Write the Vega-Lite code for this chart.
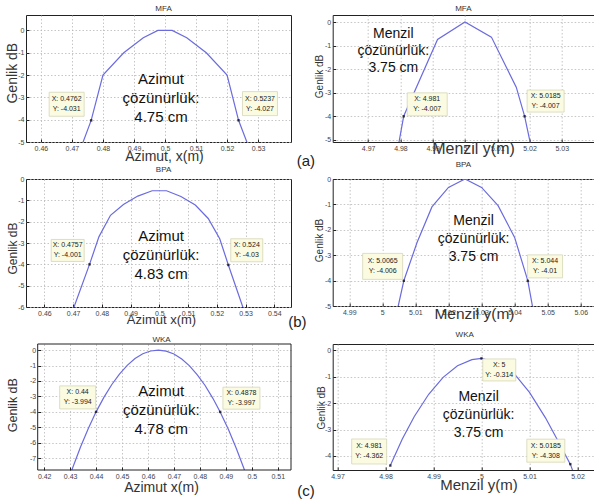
{
"$schema": "https://vega.github.io/schema/vega-lite/v6.json",
"padding": {"left": 5, "top": 4, "right": 0, "bottom": 0},
"background": "white",
"config": {
  "font": "Liberation Sans",
  "view": {"stroke": "#222", "strokeWidth": 1},
  "axis": {"grid": true, "gridColor": "#b8b8b8", "gridDash": [1.5, 2], "gridWidth": 0.8, "domain": false, "ticks": true, "tickSize": -3, "tickColor": "#222", "labelPadding": 5, "labelFontSize": 7, "labelColor": "#444", "labelFlush": false, "labelOverlap": false, "labelBound": false, "labelExpr": "'' + datum.value", "titleFontWeight": "normal", "titleColor": "#333", "titleBaseline": "middle"},
  "title": {"fontSize": 8, "fontWeight": "normal", "color": "#333"},
  "text": {"font": "Liberation Sans"}
},
"columns": 2, "bounds": "flush", "spacing": {"row": 37, "column": 41.7},
"concat": [
  {"width": 265, "height": 127, "title": {"text": "MFA", "offset": 2, "dx": 5},
   "layer": [
    {"data": {"values": [{"x":0.4728,"y":-5.3},{"x":0.4762,"y":-4.031},{"x":0.48,"y":-2.0},{"x":0.4867,"y":-1.0},{"x":0.493,"y":-0.33},{"x":0.4977,"y":0},{"x":0.5023,"y":0},{"x":0.507,"y":-0.33},{"x":0.5133,"y":-1.0},{"x":0.52,"y":-2.0},{"x":0.5237,"y":-4.027},{"x":0.5272,"y":-5.3}]},
     "mark": {"type": "line", "clip": true, "color": "#6b6bdf", "strokeWidth": 1.2},
     "encoding": {
       "x": {"field": "x", "type": "quantitative", "scale": {"domain": [0.4552, 0.5406], "nice": false, "zero": false},
             "axis": {"tickCount": 30, "labelOverlap": false, "values": [0.46,0.47,0.48,0.49,0.5,0.51,0.52,0.53], "title": "Azimut, x(m)", "titleFontSize": 14, "titleX": 138, "titleY": 14}},
       "y": {"field": "y", "type": "quantitative", "scale": {"domain": [-5, 0.69], "nice": false, "zero": false},
             "axis": {"tickCount": 30, "labelOverlap": false, "values": [-5,-4,-3,-2,-1,0], "title": "Genlik dB", "titleFontSize": 14, "titleX": -13.3, "titleY": 57.7}}}},
    {"data": {"values": [{"x":0.4762,"y":-4.031},{"x":0.5237,"y":-4.027}]},
     "mark": {"type": "square", "filled": true, "color": "#000", "size": 6},
     "encoding": {"x": {"field": "x", "type": "quantitative"}, "y": {"field": "y", "type": "quantitative"}}},
    {"data": {"values": [{}]}, "mark": {"type": "rect", "width": 35, "height": 24, "fill": "#fbfbe2", "stroke": "#d6d6b8", "strokeWidth": 0.8},
     "encoding": {"x": {"datum": 0.4683}, "y": {"datum": -3.31}}},
    {"data": {"values": [{}]}, "mark": {"type": "text", "text": ["X: 0.4762", "Y: -4.031"], "fontSize": 7, "lineHeight": 10, "dy": -5, "color": "#222"},
     "encoding": {"x": {"datum": 0.4683}, "y": {"datum": -3.31}}},
    {"data": {"values": [{}]}, "mark": {"type": "rect", "width": 35, "height": 24, "fill": "#fbfbe2", "stroke": "#d6d6b8", "strokeWidth": 0.8},
     "encoding": {"x": {"datum": 0.5306}, "y": {"datum": -3.28}}},
    {"data": {"values": [{}]}, "mark": {"type": "text", "text": ["X: 0.5237", "Y: -4.027"], "fontSize": 7, "lineHeight": 10, "dy": -5, "color": "#222"},
     "encoding": {"x": {"datum": 0.5306}, "y": {"datum": -3.28}}},
    {"data": {"values": [{}]}, "mark": {"type": "text", "text": ["Azimut", "çözünürlük:", "4.75 cm"], "fontSize": 15, "lineHeight": 19, "color": "#111"},
     "encoding": {"x": {"datum": 0.4987}, "y": {"datum": -2.18}}},
    {"data": {"values": [{}]}, "mark": {"type": "text", "text": "(a)", "fontSize": 15, "color": "#222"},
     "encoding": {"x": {"datum": 0.5454}, "y": {"datum": -5.85}}}
   ]},
  {"width": 261.3, "height": 127, "title": {"text": "MFA", "offset": 2},
   "layer": [
    {"data": {"values": [{"x":4.9793,"y":-5.3},{"x":4.981,"y":-4.007},{"x":4.9915,"y":-0.74},{"x":5.0,"y":0},{"x":5.0082,"y":-0.64},{"x":5.0159,"y":-2.77},{"x":5.0185,"y":-4.007},{"x":5.0205,"y":-5.3}]},
     "mark": {"type": "line", "clip": true, "color": "#6b6bdf", "strokeWidth": 1.2},
     "encoding": {
       "x": {"field": "x", "type": "quantitative", "scale": {"domain": [4.959, 5.04], "nice": false, "zero": false},
             "axis": {"tickCount": 30, "labelOverlap": false, "values": [4.97,4.98,4.99,5,5.01,5.02,5.03], "title": "Menzil y(m)", "titleFontSize": 16, "titleX": 140.3, "titleY": 6}},
       "y": {"field": "y", "type": "quantitative", "scale": {"domain": [-5.1, 0.3], "nice": false, "zero": false},
             "axis": {"tickCount": 30, "labelOverlap": false, "values": [-5,-4,-3,-2,-1,0], "title": "Genlik dB", "titleFontSize": 10, "titleX": -13.4, "titleY": 61}}}},
    {"data": {"values": [{"x":4.981,"y":-4.007},{"x":5.0185,"y":-4.007}]},
     "mark": {"type": "square", "filled": true, "color": "#000", "size": 6},
     "encoding": {"x": {"field": "x", "type": "quantitative"}, "y": {"field": "y", "type": "quantitative"}}},
    {"data": {"values": [{}]}, "mark": {"type": "rect", "width": 40, "height": 23, "fill": "#fbfbe2", "stroke": "#d6d6b8", "strokeWidth": 0.8},
     "encoding": {"x": {"datum": 4.9883}, "y": {"datum": -3.5}}},
    {"data": {"values": [{}]}, "mark": {"type": "text", "text": ["X: 4.981", "Y: -4.007"], "fontSize": 7, "lineHeight": 10, "dy": -5, "color": "#222"},
     "encoding": {"x": {"datum": 4.9883}, "y": {"datum": -3.5}}},
    {"data": {"values": [{}]}, "mark": {"type": "rect", "width": 37, "height": 22, "fill": "#fbfbe2", "stroke": "#d6d6b8", "strokeWidth": 0.8},
     "encoding": {"x": {"datum": 5.025}, "y": {"datum": -3.36}}},
    {"data": {"values": [{}]}, "mark": {"type": "text", "text": ["X: 5.0185", "Y: -4.007"], "fontSize": 7, "lineHeight": 10, "dy": -5, "color": "#222"},
     "encoding": {"x": {"datum": 5.025}, "y": {"datum": -3.36}}},
    {"data": {"values": [{}]}, "mark": {"type": "text", "text": ["Menzil", "çözünürlük:", "3.75 cm"], "fontSize": 14, "lineHeight": 17, "color": "#111"},
     "encoding": {"x": {"datum": 4.9778}, "y": {"datum": -0.52}}}
   ]},
  {"width": 265, "height": 128, "title": {"text": "BPA", "offset": 1, "dx": 5},
   "layer": [
    {"data": {"values": [{"x":0.4695,"y":-6.3},{"x":0.4757,"y":-4.001},{"x":0.479,"y":-2.7},{"x":0.483,"y":-1.7},{"x":0.4875,"y":-1.2},{"x":0.4925,"y":-0.8},{"x":0.4975,"y":-0.55},{"x":0.5025,"y":-0.55},{"x":0.5075,"y":-0.82},{"x":0.5125,"y":-1.22},{"x":0.517,"y":-1.85},{"x":0.521,"y":-2.8},{"x":0.524,"y":-4.03},{"x":0.5298,"y":-6.3}]},
     "mark": {"type": "line", "clip": true, "color": "#6b6bdf", "strokeWidth": 1.2},
     "encoding": {
       "x": {"field": "x", "type": "quantitative", "scale": {"domain": [0.4536, 0.5458], "nice": false, "zero": false},
             "axis": {"tickCount": 30, "labelOverlap": false, "values": [0.46,0.47,0.48,0.49,0.5,0.51,0.52,0.53,0.54], "title": "Azimut x(m)", "titleFontSize": 13, "titleX": 135, "titleY": 12}},
       "y": {"field": "y", "type": "quantitative", "scale": {"domain": [-6, 0], "nice": false, "zero": false},
             "axis": {"tickCount": 30, "labelOverlap": false, "values": [-6,-5,-4,-3,-2,-1,0], "title": "Genlik dB", "titleFontSize": 12, "titleX": -13.3, "titleY": 69}}}},
    {"data": {"values": [{"x":0.4757,"y":-4.001},{"x":0.524,"y":-4.03}]},
     "mark": {"type": "square", "filled": true, "color": "#000", "size": 6},
     "encoding": {"x": {"field": "x", "type": "quantitative"}, "y": {"field": "y", "type": "quantitative"}}},
    {"data": {"values": [{}]}, "mark": {"type": "rect", "width": 33, "height": 22, "fill": "#fbfbe2", "stroke": "#d6d6b8", "strokeWidth": 0.8},
     "encoding": {"x": {"datum": 0.4681}, "y": {"datum": -3.35}}},
    {"data": {"values": [{}]}, "mark": {"type": "text", "text": ["X: 0.4757", "Y: -4.001"], "fontSize": 7, "lineHeight": 10, "dy": -5, "color": "#222"},
     "encoding": {"x": {"datum": 0.4681}, "y": {"datum": -3.35}}},
    {"data": {"values": [{}]}, "mark": {"type": "rect", "width": 32, "height": 23, "fill": "#fbfbe2", "stroke": "#d6d6b8", "strokeWidth": 0.8},
     "encoding": {"x": {"datum": 0.5304}, "y": {"datum": -3.34}}},
    {"data": {"values": [{}]}, "mark": {"type": "text", "text": ["X: 0.524", "Y: -4.03"], "fontSize": 7, "lineHeight": 10, "dy": -5, "color": "#222"},
     "encoding": {"x": {"datum": 0.5304}, "y": {"datum": -3.34}}},
    {"data": {"values": [{}]}, "mark": {"type": "text", "text": ["Azimut", "çözünürlük:", "4.83 cm"], "fontSize": 15, "lineHeight": 19, "color": "#111"},
     "encoding": {"x": {"datum": 0.5006}, "y": {"datum": -2.67}}},
    {"data": {"values": [{}]}, "mark": {"type": "text", "text": "(b)", "fontSize": 15, "color": "#222"},
     "encoding": {"x": {"datum": 0.548}, "y": {"datum": -6.71}}}
   ]},
  {"width": 261.3, "height": 127, "title": {"text": "BPA", "offset": 6},
   "layer": [
    {"data": {"values": [{"x":5.0043,"y":-5.3},{"x":5.0065,"y":-4.006},{"x":5.0105,"y":-2.5},{"x":5.015,"y":-1.1},{"x":5.02,"y":-0.33},{"x":5.025,"y":0},{"x":5.03,"y":-0.33},{"x":5.035,"y":-1.05},{"x":5.04,"y":-2.3},{"x":5.044,"y":-4.01},{"x":5.0458,"y":-5.3}]},
     "mark": {"type": "line", "clip": true, "color": "#6b6bdf", "strokeWidth": 1.2},
     "encoding": {
       "x": {"field": "x", "type": "quantitative", "scale": {"domain": [4.985, 5.064], "nice": false, "zero": false},
             "axis": {"tickCount": 30, "labelOverlap": false, "values": [4.99,5,5.01,5.02,5.03,5.04,5.05,5.06], "title": "Menzil y(m)", "titleFontSize": 15.5, "titleX": 141.3, "titleY": 7}},
       "y": {"field": "y", "type": "quantitative", "scale": {"domain": [-5, 0], "nice": false, "zero": false},
             "axis": {"tickCount": 30, "labelOverlap": false, "values": [-5,-4,-3,-2,-1,0], "title": "Genlik dB", "titleFontSize": 10, "titleX": -13.4, "titleY": 61}}}},
    {"data": {"values": [{"x":5.0065,"y":-4.006},{"x":5.044,"y":-4.01}]},
     "mark": {"type": "square", "filled": true, "color": "#000", "size": 6},
     "encoding": {"x": {"field": "x", "type": "quantitative"}, "y": {"field": "y", "type": "quantitative"}}},
    {"data": {"values": [{}]}, "mark": {"type": "rect", "width": 40, "height": 26, "fill": "#fbfbe2", "stroke": "#d6d6b8", "strokeWidth": 0.8},
     "encoding": {"x": {"datum": 5.0001}, "y": {"datum": -3.44}}},
    {"data": {"values": [{}]}, "mark": {"type": "text", "text": ["X: 5.0065", "Y: -4.006"], "fontSize": 7, "lineHeight": 10, "dy": -5, "color": "#222"},
     "encoding": {"x": {"datum": 5.0001}, "y": {"datum": -3.44}}},
    {"data": {"values": [{}]}, "mark": {"type": "rect", "width": 35, "height": 23, "fill": "#fbfbe2", "stroke": "#d6d6b8", "strokeWidth": 0.8},
     "encoding": {"x": {"datum": 5.0492}, "y": {"datum": -3.44}}},
    {"data": {"values": [{}]}, "mark": {"type": "text", "text": ["X: 5.044", "Y: -4.01"], "fontSize": 7, "lineHeight": 10, "dy": -5, "color": "#222"},
     "encoding": {"x": {"datum": 5.0492}, "y": {"datum": -3.44}}},
    {"data": {"values": [{}]}, "mark": {"type": "text", "text": ["Menzil", "çözünürlük:", "3.75 cm"], "fontSize": 14, "lineHeight": 18, "color": "#111"},
     "encoding": {"x": {"datum": 5.0276}, "y": {"datum": -1.67}}}
   ]},
  {"width": 265, "height": 126, "view": {"stroke": null}, "title": {"text": "WKA", "offset": 0, "dx": 3},
   "layer": [
    {"data": {"values": [{"x":0.430,"y":-8.04},{"x":0.434,"y":-6.26},{"x":0.437,"y":-5.07},{"x":0.44,"y":-3.994},{"x":0.443,"y":-3.06},{"x":0.446,"y":-2.24},{"x":0.449,"y":-1.55},{"x":0.452,"y":-0.99},{"x":0.455,"y":-0.55},{"x":0.458,"y":-0.24},{"x":0.461,"y":-0.06},{"x":0.464,"y":0},{"x":0.467,"y":-0.07},{"x":0.47,"y":-0.26},{"x":0.473,"y":-0.58},{"x":0.476,"y":-1.02},{"x":0.479,"y":-1.6},{"x":0.482,"y":-2.29},{"x":0.485,"y":-3.12},{"x":0.4878,"y":-3.997},{"x":0.491,"y":-5.14},{"x":0.494,"y":-6.34},{"x":0.497,"y":-7.67},{"x":0.498,"y":-8.14}]},
     "mark": {"type": "line", "clip": true, "color": "#6b6bdf", "strokeWidth": 1.2},
     "encoding": {
       "x": {"field": "x", "type": "quantitative", "scale": {"domain": [0.4175, 0.5151], "range": [11.7, 265], "nice": false, "zero": false},
             "axis": {"tickCount": 30, "labelOverlap": false, "values": [0.42,0.43,0.44,0.45,0.46,0.47,0.48,0.49,0.5,0.51], "title": "Azimut x(m)", "titleFontSize": 14, "titleX": 135, "titleY": 17}},
       "y": {"field": "y", "type": "quantitative", "scale": {"domain": [-7.75, 0.39], "nice": false, "zero": false},
             "axis": {"tickCount": 30, "labelOverlap": false, "offset": -11.7, "values": [-7,-6,-5,-4,-3,-2,-1,0], "title": "Genlik dB", "titleFontSize": 12.5, "titleX": -25, "titleY": 60.7}}}},
    {"data": {"values": [{}]}, "mark": {"type": "rect", "fillOpacity": 0, "stroke": "#222", "strokeWidth": 1},
     "encoding": {"x": {"datum": 0.4175}, "x2": {"datum": 0.5151}, "y": {"datum": -7.75}, "y2": {"datum": 0.39}}},
    {"data": {"values": [{"x":0.44,"y":-3.994},{"x":0.4878,"y":-3.997}]},
     "mark": {"type": "square", "filled": true, "color": "#000", "size": 6},
     "encoding": {"x": {"field": "x", "type": "quantitative"}, "y": {"field": "y", "type": "quantitative"}}},
    {"data": {"values": [{}]}, "mark": {"type": "rect", "width": 36, "height": 23, "fill": "#fbfbe2", "stroke": "#d6d6b8", "strokeWidth": 0.8},
     "encoding": {"x": {"datum": 0.4329}, "y": {"datum": -3.06}}},
    {"data": {"values": [{}]}, "mark": {"type": "text", "text": ["X: 0.44", "Y: -3.994"], "fontSize": 7, "lineHeight": 10, "dy": -5, "color": "#222"},
     "encoding": {"x": {"datum": 0.4329}, "y": {"datum": -3.06}}},
    {"data": {"values": [{}]}, "mark": {"type": "rect", "width": 37, "height": 22, "fill": "#fbfbe2", "stroke": "#d6d6b8", "strokeWidth": 0.8},
     "encoding": {"x": {"datum": 0.496}, "y": {"datum": -3.11}}},
    {"data": {"values": [{}]}, "mark": {"type": "text", "text": ["X: 0.4878", "Y: -3.997"], "fontSize": 7, "lineHeight": 10, "dy": -5, "color": "#222"},
     "encoding": {"x": {"datum": 0.496}, "y": {"datum": -3.11}}},
    {"data": {"values": [{}]}, "mark": {"type": "text", "text": ["Azimut", "çözünürlük:", "4.78 cm"], "fontSize": 15, "lineHeight": 19, "color": "#111"},
     "encoding": {"x": {"datum": 0.4651}, "y": {"datum": -2.63}}},
    {"data": {"values": [{}]}, "mark": {"type": "text", "text": "(c)", "fontSize": 15, "color": "#222"},
     "encoding": {"x": {"datum": 0.5209}, "y": {"datum": -9.09}}}
   ]},
  {"width": 264, "height": 126, "title": {"text": "WKA", "offset": 5},
   "layer": [
    {"data": {"values": [{"x":4.981,"y":-4.362},{"x":4.9835,"y":-3.36},{"x":4.986,"y":-2.51},{"x":4.989,"y":-1.67},{"x":4.992,"y":-1.03},{"x":4.995,"y":-0.59},{"x":4.998,"y":-0.36},{"x":5.0,"y":-0.314},{"x":5.0035,"y":-0.5},{"x":5.0069,"y":-0.91},{"x":5.01,"y":-1.6},{"x":5.0133,"y":-2.55},{"x":5.016,"y":-3.45},{"x":5.0185,"y":-4.308},{"x":5.0193,"y":-4.7}]},
     "mark": {"type": "line", "clip": true, "color": "#6b6bdf", "strokeWidth": 1.2},
     "encoding": {
       "x": {"field": "x", "type": "quantitative", "scale": {"domain": [4.969, 5.024], "nice": false, "zero": false},
             "axis": {"tickCount": 30, "labelOverlap": false, "values": [4.97,4.98,4.99,5,5.01,5.02], "title": "Menzil y(m)", "titleFontSize": 15, "titleX": 145.7, "titleY": 14}},
       "y": {"field": "y", "type": "quantitative", "scale": {"domain": [-4.53, 0.23], "nice": false, "zero": false},
             "axis": {"tickCount": 30, "labelOverlap": false, "values": [-4,-3,-2,-1,0], "title": "Genlik dB", "titleFontSize": 10, "titleX": -11, "titleY": 63.4}}}},
    {"data": {"values": [{"x":4.981,"y":-4.362},{"x":5.0,"y":-0.314},{"x":5.0185,"y":-4.308}]},
     "mark": {"type": "square", "filled": true, "color": "#000", "size": 6},
     "encoding": {"x": {"field": "x", "type": "quantitative"}, "y": {"field": "y", "type": "quantitative"}}},
    {"data": {"values": [{}]}, "mark": {"type": "rect", "width": 33, "height": 22, "fill": "#fbfbe2", "stroke": "#d6d6b8", "strokeWidth": 0.8},
     "encoding": {"x": {"datum": 5.0037}, "y": {"datum": -0.75}}},
    {"data": {"values": [{}]}, "mark": {"type": "text", "text": ["X: 5", "Y: -0.314"], "fontSize": 7, "lineHeight": 10, "dy": -5, "color": "#222"},
     "encoding": {"x": {"datum": 5.0037}, "y": {"datum": -0.75}}},
    {"data": {"values": [{}]}, "mark": {"type": "rect", "width": 35, "height": 25, "fill": "#fbfbe2", "stroke": "#d6d6b8", "strokeWidth": 0.8},
     "encoding": {"x": {"datum": 4.9766}, "y": {"datum": -3.83}}},
    {"data": {"values": [{}]}, "mark": {"type": "text", "text": ["X: 4.981", "Y: -4.362"], "fontSize": 7, "lineHeight": 10, "dy": -5, "color": "#222"},
     "encoding": {"x": {"datum": 4.9766}, "y": {"datum": -3.83}}},
    {"data": {"values": [{}]}, "mark": {"type": "rect", "width": 38, "height": 23, "fill": "#fbfbe2", "stroke": "#d6d6b8", "strokeWidth": 0.8},
     "encoding": {"x": {"datum": 5.0134}, "y": {"datum": -3.8}}},
    {"data": {"values": [{}]}, "mark": {"type": "text", "text": ["X: 5.0185", "Y: -4.308"], "fontSize": 7, "lineHeight": 10, "dy": -5, "color": "#222"},
     "encoding": {"x": {"datum": 5.0134}, "y": {"datum": -3.8}}},
    {"data": {"values": [{}]}, "mark": {"type": "text", "text": ["Menzil", "çözünürlük:", "3.75 cm"], "fontSize": 14, "lineHeight": 18, "color": "#111"},
     "encoding": {"x": {"datum": 4.9994}, "y": {"datum": -1.79}}}
   ]}
]
}
